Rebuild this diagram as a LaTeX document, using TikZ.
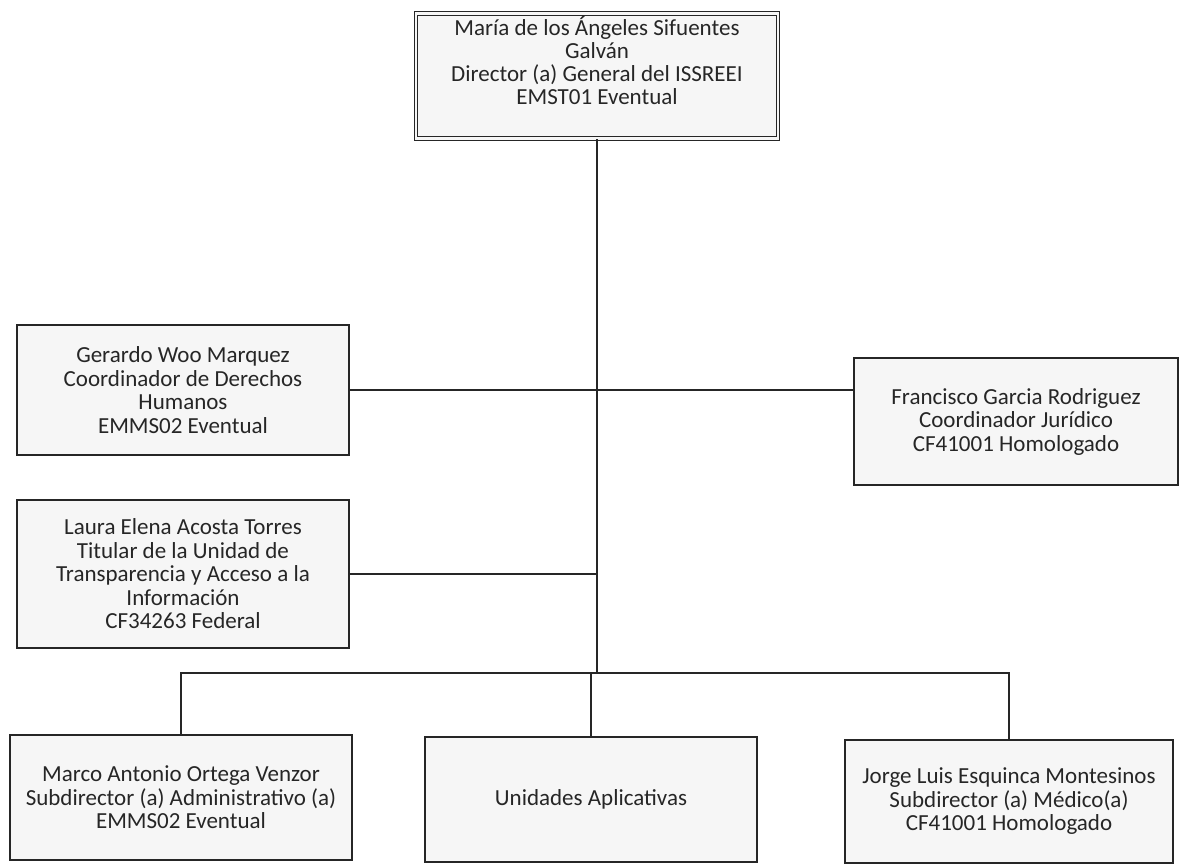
\documentclass[tikz,border=0pt]{standalone}
\usepackage{fontspec}
\setmainfont{Carlito}
\begin{document}
\begin{tikzpicture}[x=1pt,y=-1pt,
  box/.style={draw=black!85, line width=1.3pt, fill=gray!7, rectangle, align=center,
    inner sep=2pt, text=black!85, font=\fontsize{23}{23.5}\selectfont},
  dbox/.style={box, line width=1pt, double=gray!7, double distance=2.5pt},
  txt/.style={align=center, inner sep=0pt, text=black!85, font=\fontsize{23}{23}\selectfont},
  conn/.style={draw=black!85, line width=1.3pt}]
\useasboundingbox (0,0) rectangle (1179,867);

\node[dbox, minimum width=362pt, minimum height=125pt] (dir) at (597,76) {};
\node[txt, anchor=north] (dirt) at ([yshift=-3pt]dir.north)
  {María de los Ángeles Sifuentes\\Galván\\Director (a) General del ISSREEI\\EMST01 Eventual};

\node[box, minimum width=332pt, minimum height=130pt] (ger) at (183,390)
  {Gerardo Woo Marquez\\Coordinador de Derechos\\Humanos\\EMMS02 Eventual};
\node[box, minimum width=332pt, minimum height=148pt] (lau) at (183,574)
  {Laura Elena Acosta Torres\\Titular de la Unidad de\\Transparencia y Acceso a la\\Información\\CF34263 Federal};
\node[box, minimum width=324pt, minimum height=127pt] (fra) at (1016,421.5)
  {Francisco Garcia Rodriguez\\Coordinador Jurídico\\CF41001 Homologado};
\node[box, minimum width=342pt, minimum height=125pt] (mar) at (181,797.5)
  {Marco Antonio Ortega Venzor\\Subdirector (a) Administrativo (a)\\EMMS02 Eventual};
\node[box, minimum width=332pt, minimum height=125pt] (uni) at (591,799.5)
  {Unidades Aplicativas};
\node[box, minimum width=328pt, minimum height=123pt] (jor) at (1009,801.5)
  {Jorge Luis Esquinca Montesinos\\Subdirector (a) Médico(a)\\CF41001 Homologado};

\coordinate (bus) at (dir.south |- 0,673);
\draw[conn] (dir.south) -- (bus);
\draw[conn] (ger.east) -- (ger.east -| fra.west);
\draw[conn] (lau.east) -- (lau.east -| dir.south);
\draw[conn] (mar.north) |- (bus) -| (jor.north);
\draw[conn] (uni.north) -- (uni.north |- bus);
\end{tikzpicture}
\end{document}
